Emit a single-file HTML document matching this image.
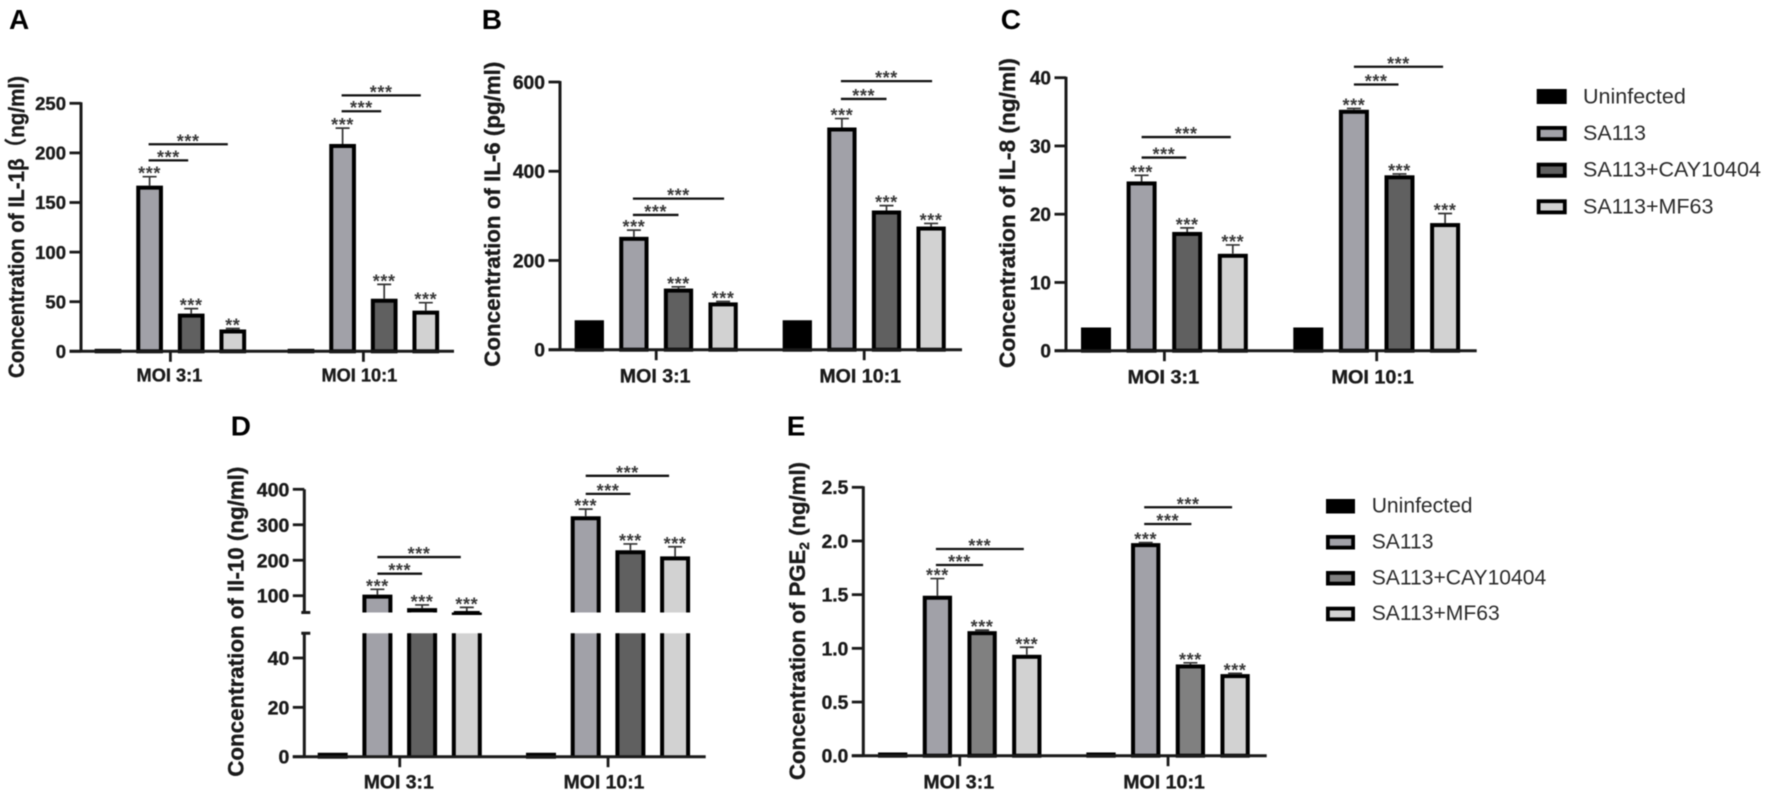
<!DOCTYPE html>
<html lang="en">
<head>
<meta charset="utf-8">
<title>Cytokine concentration bar charts</title>
<style>
html,body{margin:0;padding:0;background:#fff;width:1772px;height:797px;overflow:hidden}
#figure{display:block;filter:blur(0.45px)}
text{font-family:"Liberation Sans","Noto Sans CJK SC",sans-serif}
</style>
</head>
<body>
<svg id="figure" xmlns="http://www.w3.org/2000/svg" width="1772" height="797" viewBox="0 0 1772 797"></svg>
<script>
// ---------- chart data ----------
const categories = ['MOI 3:1', 'MOI 10:1'];
const seriesNames = ['Uninfected', 'SA113', 'SA113+CAY10404', 'SA113+MF63'];

const valuesA = [2.5, 167, 38, 22, 2.5, 209, 53, 41];
const errorsA = [0, 9, 5, 1, 0, 16, 14.5, 8];
const starsA = ['', '***', '***', '**', '', '***', '***', '***'];
const bracketLevelsA = [192.5, 208.7, 242, 258];
const ticksA = [0, 50, 100, 150, 200, 250];

const valuesB = [66, 253, 137, 106, 66, 498, 312, 276];
const errorsB = [0, 15, 4, 2, 0, 20, 11, 7];
const starsB = ['', '***', '***', '***', '', '***', '***', '***'];
const bracketLevelsB = [302, 338.6, 562, 602];
const ticksB = [0, 200, 400, 600];

const valuesC = [3.4, 24.8, 17.4, 14.2, 3.4, 35.3, 25.7, 18.7];
const errorsC = [0, 0.9, 0.6, 1.3, 0, 0.2, 0.2, 1.4];
const starsC = ['', '***', '***', '***', '', '***', '***', '***'];
const bracketLevelsC = [28.3, 31.3, 39, 41.6];
const ticksC = [0, 10, 20, 30, 40];

const valuesD = [1.6, 103, 65, 57, 1.6, 324, 228, 211];
const errorsD = [0, 15, 9, 10, 0, 20, 18, 27];
const starsD = ['', '***', '***', '***', '', '***', '***', '***'];
const bracketLevelsD = [162, 209, 387, 438];
const ticksD = [0, 20, 40, 100, 200, 300, 400];

const valuesE = [0.03, 1.49, 1.16, 0.94, 0.03, 1.98, 0.85, 0.76];
const errorsE = [0, 0.16, 0.01, 0.07, 0, 0.005, 0.015, 0.007];
const starsE = ['', '***', '***', '***', '', '***', '***', '***'];
const bracketLevelsE = [1.776, 1.925, 2.158, 2.314];
const ticksE = [0, 0.5, 1.0, 1.5, 2.0, 2.5];

// ---------- layout ----------
const NS = 'http://www.w3.org/2000/svg';
const svg = document.getElementById('figure');
const INK = '#1a1a1a';
const STAR_INK = '#3a3a3a';
const SW = 4;
const HEAVY = 0.35;

function el(parent, tag, attrs, txt) {
  const n = document.createElementNS(NS, tag);
  for (const k in attrs) n.setAttribute(k, attrs[k]);
  if (txt !== undefined) n.textContent = txt;
  parent.appendChild(n);
  return n;
}

function linearScale(y0, yTop, max) {
  return function (v) { return y0 - (v / max) * (y0 - yTop); };
}

function brokenScale(y0, y50, y100, y400) {
  return function (v) {
    if (v <= 50) return y0 - (v / 50) * (y0 - y50);
    return y100 - (v - 100) * (y100 - y400) / 300;
  };
}

function drawPanel(p) {
  const g = el(svg, 'g', {});
  
  

  const letter = el(g, 'text', { x: p.letterX, y: p.letterY, 'font-size': 28, 'font-weight': 700, fill: '#000' }, p.id);
  
  

  const title = el(g, 'text', {
    transform: 'translate(' + p.titleX + ',' + p.titleBottom + ') rotate(-90)',
    'font-size': 22.5, 'font-weight': 700, fill: INK, stroke: INK, 'stroke-width': HEAVY,
    textLength: p.titleLen, lengthAdjust: 'spacingAndGlyphs'
  });
  
  
  p.title.forEach(function (part) {
    const t = el(title, 'tspan', part.sub ? { 'font-size': 14, dy: 4 } : (part.after ? { dy: -4 } : {}), part.text);
    
    
  });

  const cx = function (i) {
    const grp = Math.floor(i / 4), b = i % 4;
    return p.x0 + grp * p.group + b * p.step;
  };
  const y = p.y;

  // bars
  p.values.forEach(function (v, i) {
    const c = cx(i);
    const half = (p.barW - SW) / 2;
    const topY = y(v) + SW / 2;
    const fill = p.fills[i % 4];
    const bar = el(g, 'g', {});
    
    
    const l = c - half, r = c + half;
    if (p.breakTop !== undefined && v > 50) {
      const lowerFill = el(bar, 'rect', { x: l, y: p.breakBottom, width: r - l, height: p.y0 - p.breakBottom, fill: fill });
      
      
      const lower = el(bar, 'path', {
        d: 'M' + l + ' ' + p.y0 + 'L' + l + ' ' + p.breakBottom + 'M' + r + ' ' + p.breakBottom + 'L' + r + ' ' + p.y0,
        stroke: '#000', 'stroke-width': SW, fill: 'none'
      });
      
      
      const upperFill = el(bar, 'rect', { x: l, y: topY, width: r - l, height: Math.max(0, p.breakTop - topY), fill: fill });
      
      
      const upper = el(bar, 'path', {
        d: 'M' + l + ' ' + p.breakTop + 'L' + l + ' ' + topY + 'L' + r + ' ' + topY + 'L' + r + ' ' + p.breakTop,
        stroke: '#000', 'stroke-width': SW, fill: 'none'
      });
      
      
    } else {
      const rect = el(bar, 'rect', {
        x: l, y: topY, width: r - l, height: Math.max(0.1, p.y0 - topY),
        fill: fill, stroke: '#000', 'stroke-width': SW
      });
      
      
    }
    // error bar
    if (p.errors[i] > 0) {
      const capY = y(v + p.errors[i]);
      const err = el(g, 'path', {
        d: 'M' + c + ' ' + y(v) + 'L' + c + ' ' + capY + 'M' + (c - 7) + ' ' + capY + 'L' + (c + 7) + ' ' + capY,
        stroke: '#333', 'stroke-width': 1.7, fill: 'none'
      });
      
      
    }
    if (p.stars[i]) {
      const base = p.errors[i] > 0 ? y(v + p.errors[i]) : y(v);
      const st = el(g, 'text', {
        x: c, y: base + 3, 'text-anchor': 'middle', 'font-size': 18, 'font-weight': 700, fill: STAR_INK, 'letter-spacing': 0.6
      }, p.stars[i]);
      
      
    }
  });

  // brackets
  p.brackets.forEach(function (lvl, k) {
    const grp = Math.floor(k / 2), isLong = k % 2 === 1;
    const start = cx(grp * 4 + 1) + p.brStart;
    const end = isLong ? cx(grp * 4 + 3) + p.brLong : cx(grp * 4 + 2) + p.brShort;
    const ly = y(lvl);
    const line = el(g, 'line', { x1: start, x2: end, y1: ly, y2: ly, stroke: '#111', 'stroke-width': 2.3 });
    
    
    const st = el(g, 'text', {
      x: (start + end) / 2, y: ly + 3, 'text-anchor': 'middle', 'font-size': 18, 'font-weight': 700, fill: STAR_INK, 'letter-spacing': 0.6
    }, '***');
    
    
  });

  // y axis
  const axisD = p.breakTop !== undefined
    ? 'M' + p.axisX + ' ' + p.y0 + 'L' + p.axisX + ' ' + p.breakBottom +
      'M' + (p.axisX - 3) + ' ' + p.breakBottom + 'L' + (p.axisX + 6) + ' ' + p.breakBottom +
      'M' + (p.axisX - 3) + ' ' + p.breakTop + 'L' + (p.axisX + 6) + ' ' + p.breakTop +
      'M' + p.axisX + ' ' + p.breakTop + 'L' + p.axisX + ' ' + y(p.ticks[p.ticks.length - 1])
    : 'M' + p.axisX + ' ' + p.y0 + 'L' + p.axisX + ' ' + (y(p.ticks[p.ticks.length - 1]) - 1);
  const yAxis = el(g, 'path', { d: axisD, stroke: INK, 'stroke-width': 3, fill: 'none' });
  
  

  p.ticks.forEach(function (t) {
    const ty = y(t);
    const tick = el(g, 'line', { x1: p.axisX - 11.5, x2: p.axisX, y1: ty, y2: ty, stroke: INK, 'stroke-width': 2.8 });
    
    
    const label = el(g, 'text', {
      x: p.axisX - 15, y: ty + p.tickFs * 0.36, 'text-anchor': 'end', 'font-size': p.tickFs, 'font-weight': 700, fill: INK, stroke: INK, 'stroke-width': HEAVY
    }, p.tickFmt ? t.toFixed(1) : String(t));
    
    
  });

  // x axis
  const xAxis = el(g, 'line', { x1: p.axisX - 11.5, x2: p.xEnd, y1: p.y0, y2: p.y0, stroke: INK, 'stroke-width': 3 });
  
  

  categories.forEach(function (cat, gi) {
    const mid = (cx(gi * 4) + cx(gi * 4 + 3)) / 2;
    const tick = el(g, 'line', { x1: mid, x2: mid, y1: p.y0, y2: p.y0 + 10.5, stroke: INK, 'stroke-width': 2.8 });
    
    
    const label = el(g, 'text', {
      x: mid - 1 - gi * 3, y: p.xLabelY, 'text-anchor': 'middle', 'font-size': p.xFs, 'font-weight': 700, fill: INK, stroke: INK, 'stroke-width': HEAVY
    }, cat);
    
    
  });
}

function drawLegend(name, fills, sx, sw, sh, tx, fs, tops, bases) {
  const g = el(svg, 'g', {});
  
  
  seriesNames.forEach(function (s, i) {
    const swatch = el(g, 'rect', {
      x: sx + 1.9, y: tops[i] + 1.9, width: sw - 3.8, height: sh - 3.8,
      fill: fills[i], stroke: '#000', 'stroke-width': 3.8
    });
    
    
    const text = el(g, 'text', { x: tx, y: bases[i], 'font-size': fs, fill: '#2a2a2a' }, s);
    
    
  });
}

const fillsMain = ['#000000', '#a1a1a8', '#606060', '#d2d2d2'];
const fillsE = ['#000000', '#a1a1a8', '#808080', '#d2d2d2'];

drawPanel({
  id: 'A', letterX: 9, letterY: 29, titleX: 24, titleBottom: 378, titleLen: 302,
  title: [{ text: 'Concentration of IL-1β（ng/ml)' }],
  axisX: 81, y0: 351.3, y: linearScale(351.3, 103.3, 250), xEnd: 454,
  x0: 108, step: 41.6, group: 193, barW: 26.7, tickFs: 18.5, xFs: 18.2, xLabelY: 381.7,
  values: valuesA, errors: errorsA, stars: starsA, brackets: bracketLevelsA, ticks: ticksA,
  fills: fillsMain, brStart: -1, brShort: -3, brLong: -5
});
drawPanel({
  id: 'B', letterX: 481.7, letterY: 29, titleX: 500, titleBottom: 366.7, titleLen: 305,
  title: [{ text: 'Concentration of IL-6 (pg/ml)' }],
  axisX: 560, y0: 349.7, y: linearScale(349.7, 82, 600), xEnd: 962,
  x0: 589.3, step: 44.6, group: 208, barW: 29.3, tickFs: 19.3, xFs: 19.6, xLabelY: 382.3,
  values: valuesB, errors: errorsB, stars: starsB, brackets: bracketLevelsB, ticks: ticksB,
  fills: fillsMain, brStart: -1, brShort: 0, brLong: 1
});
drawPanel({
  id: 'C', letterX: 1000.7, letterY: 29, titleX: 1015, titleBottom: 368, titleLen: 310,
  title: [{ text: 'Concentration of IL-8 (ng/ml)' }],
  axisX: 1066, y0: 350.7, y: linearScale(350.7, 77.7, 40), xEnd: 1476.7,
  x0: 1096, step: 45.6, group: 212.3, barW: 30, tickFs: 19, xFs: 19.8, xLabelY: 383.3,
  values: valuesC, errors: errorsC, stars: starsC, brackets: bracketLevelsC, ticks: ticksC,
  fills: fillsMain, brStart: 0, brShort: -1, brLong: -2
});
drawPanel({
  id: 'D', letterX: 230.7, letterY: 435.7, titleX: 243.3, titleBottom: 776.7, titleLen: 310,
  title: [{ text: 'Concentration of Il-10 (ng/ml)' }],
  axisX: 304.3, y0: 756.7, y: brokenScale(756.7, 633.3, 595.7, 489.3), xEnd: 705.7,
  breakTop: 612.5, breakBottom: 633.3,
  x0: 332.7, step: 44.7, group: 208.3, barW: 30, tickFs: 19.5, xFs: 19.4, xLabelY: 788.3,
  values: valuesD, errors: errorsD, stars: starsD, brackets: bracketLevelsD, ticks: ticksD,
  fills: fillsMain, brStart: 0, brShort: 0, brLong: -6
});
drawPanel({
  id: 'E', letterX: 786.7, letterY: 435.7, titleX: 805, titleBottom: 780, titleLen: 318,
  title: [{ text: 'Concentration of PGE' }, { text: '2', sub: true }, { text: ' (ng/ml)', after: true }],
  axisX: 863.3, y0: 755.7, y: linearScale(755.7, 487.3, 2.5), xEnd: 1266.7,
  x0: 892.7, step: 44.7, group: 208.3, barW: 29.3, tickFs: 19.2, xFs: 19.6, xLabelY: 788.3, tickFmt: true,
  values: valuesE, errors: errorsE, stars: starsE, brackets: bracketLevelsE, ticks: ticksE,
  fills: fillsE, brStart: -1.5, brShort: 1, brLong: -3
});

drawLegend('legend-top', fillsMain, 1536.7, 30, 15, 1583, 21.5, [89, 126, 162.7, 199.3], [103.3, 140, 176.7, 213.3]);
drawLegend('legend-bottom', fillsE, 1326, 29, 14.5, 1371.7, 21.1, [499, 535, 571, 606.7], [512.3, 548.3, 584.3, 620]);
</script>
</body>
</html>
